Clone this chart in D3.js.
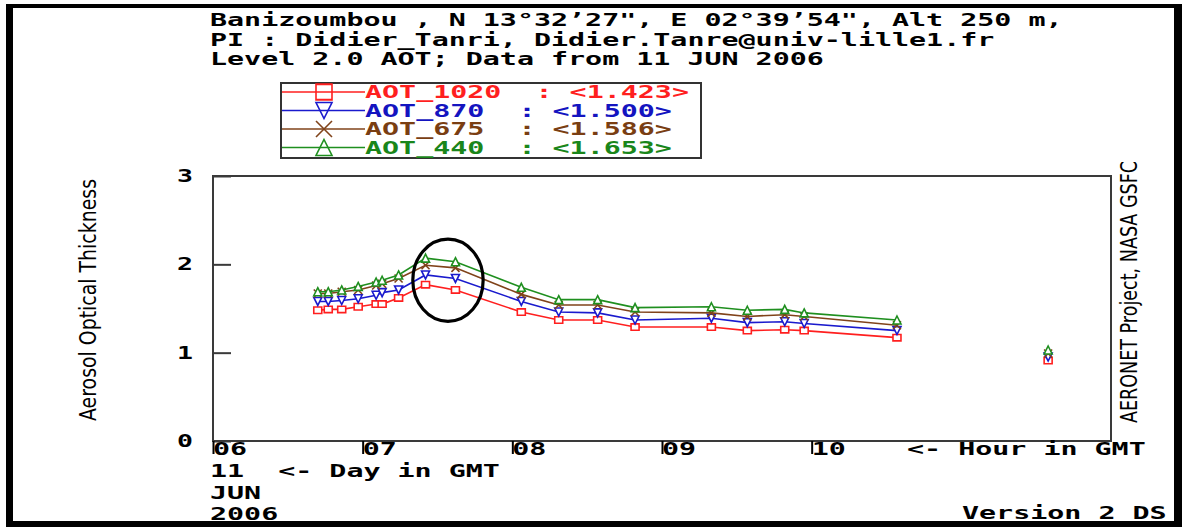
<!DOCTYPE html>
<html>
<head>
<meta charset="utf-8">
<script src="https://cdn.jsdelivr.net/npm/d3@7"></script>
<style>
  html, body { margin: 0; padding: 0; background: #fff; }
  svg { display: block; }
  text { white-space: pre; }
</style>
</head>
<body>
<svg id="chart" width="1186" height="527"></svg>
<script>
// Observation times (hour GMT, 11 JUN 2006)
const hours = [6.70, 6.77, 6.86, 6.97, 7.09, 7.13, 7.24, 7.42, 7.62, 8.06, 8.31, 8.57, 8.82, 9.33, 9.57, 9.82, 9.95, 10.57, 11.58];

// Aerosol optical thickness per wavelength
const aot1020 = [1.48, 1.49, 1.49, 1.52, 1.55, 1.55, 1.62, 1.77, 1.71, 1.46, 1.37, 1.37, 1.29, 1.29, 1.25, 1.26, 1.25, 1.17, 0.91];
const aot870  = [1.58, 1.58, 1.59, 1.61, 1.65, 1.68, 1.71, 1.88, 1.84, 1.58, 1.46, 1.45, 1.37, 1.39, 1.34, 1.35, 1.33, 1.25, 0.95];
const aot675  = [1.67, 1.67, 1.69, 1.71, 1.76, 1.78, 1.84, 1.99, 1.96, 1.66, 1.54, 1.54, 1.46, 1.45, 1.41, 1.43, 1.41, 1.31, 0.99];
const aot440  = [1.69, 1.69, 1.71, 1.75, 1.80, 1.82, 1.88, 2.07, 2.03, 1.74, 1.60, 1.60, 1.51, 1.52, 1.48, 1.49, 1.45, 1.37, 1.03];

const seriesNames = ["AOT_1020", "AOT_870", "AOT_675", "AOT_440"];
const seriesMeans = ["1.423", "1.500", "1.586", "1.653"];

const yTicks = [0, 1, 2, 3];
const xTicks = [6, 7, 8, 9, 10];
const xTickLabels = ["06", "07", "08", "09", "10"];

const titleLines = [
  "Banizoumbou , N 13\u00b032\u201927\", E 02\u00b039\u201954\", Alt 250 m,",
  "PI : Didier_Tanri, Didier.Tanre@univ-lille1.fr",
  "Level 2.0 AOT; Data from 11 JUN 2006"
];

// Highlighted interval (hour / AOT units)
const highlightCenter = [7.57, 1.82];
const highlightRadius = [0.235, 0.465];

// ---------------------------------------------------------------
const svg = d3.select("#chart");
const PITCH = 17.05;              // character advance of the wide plot font
const MONO = "'DejaVu Sans Mono', monospace";

const x = d3.scaleLinear().domain([6, 12]).range([213, 1111]);
const y = d3.scaleLinear().domain([0, 3]).range([441, 176]);

const series = [
  { name: seriesNames[0], mean: seriesMeans[0], values: aot1020, color: "#ff1f1f", text: "#ff1f1f", shape: "square" },
  { name: seriesNames[1], mean: seriesMeans[1], values: aot870,  color: "#1a1acd", text: "#1414c0", shape: "down" },
  { name: seriesNames[2], mean: seriesMeans[2], values: aot675,  color: "#80431a", text: "#7a3e12", shape: "cross" },
  { name: seriesNames[3], mean: seriesMeans[3], values: aot440,  color: "#1f8f1f", text: "#1a861a", shape: "up" }
];

// stretched monospace label
function label(g, str, px, py, opts = {}) {
  const n = opts.len != null ? opts.len : str.length * PITCH;
  return g.append("text")
    .attr("x", px).attr("y", py)
    .attr("font-family", opts.family || MONO)
    .attr("font-weight", opts.weight || "bold")
    .attr("font-size", opts.size || 17)
    .attr("fill", opts.fill || "#000")
    .attr("textLength", n)
    .attr("lengthAdjust", "spacingAndGlyphs")
    .attr("text-anchor", opts.anchor || "start")
    .attr("transform", opts.transform || null)
    .text(str);
}

// marker path generator centered at 0,0
function markerPath(shape, s) {
  const h = s / 2;
  switch (shape) {
    case "square": return `M${-h},${-h * 0.8}H${h}V${h * 0.8}H${-h}Z`;
    case "down":   return `M${-h},${-h}H${h}L0,${h}Z`;
    case "up":     return `M0,${-h}L${h},${h}H${-h}Z`;
    case "cross":  return `M${-h},${-h}L${h},${h}M${h},${-h}L${-h},${h}`;
  }
}

// ---- outer frame
const frame = svg.append("g").attr("fill", "#000");
frame.append("rect").attr("x", 6).attr("y", 4).attr("width", 7).attr("height", 523);
frame.append("rect").attr("x", 6).attr("y", 4).attr("width", 1176).attr("height", 4);
frame.append("rect").attr("x", 1174).attr("y", 4).attr("width", 8).attr("height", 523);
frame.append("rect").attr("x", 6).attr("y", 521).attr("width", 1176).attr("height", 6);

// ---- header
const head = svg.append("g");
titleLines.forEach((t, i) => label(head, t, 210, 26 + i * 19.5));

// ---- plot box
const plot = svg.append("g");
plot.append("rect")
  .attr("x", x(6)).attr("y", y(3))
  .attr("width", x(12) - x(6)).attr("height", y(0) - y(3))
  .attr("fill", "none").attr("stroke", "#3a3a3a").attr("stroke-width", 2);

// y axis: inward ticks, labels to the left
const yAxis = d3.axisLeft(y).tickValues(yTicks).tickSize(-18).tickFormat(d3.format("d"));
const yg = plot.append("g").attr("transform", `translate(${x(6)},0)`).call(yAxis);
yg.select(".domain").remove();
yg.selectAll(".tick line").attr("stroke", "#3a3a3a").attr("stroke-width", 2);
yg.selectAll(".tick text").remove();
yTicks.forEach(v => label(plot, String(v), 185, y(v) + 6, { len: 16, anchor: "middle" }));

// x axis: short downward ticks with labels starting at the tick
const xAxis = d3.axisBottom(x).tickValues(xTicks).tickSize(13).tickFormat("");
const xg = plot.append("g").attr("transform", `translate(0,${y(0)})`).call(xAxis);
xg.select(".domain").remove();
xg.selectAll(".tick line").attr("stroke", "#000").attr("stroke-width", 2);
xTicks.forEach((h, i) => label(plot, xTickLabels[i], x(h), 455));
label(plot, "<- Hour in GMT", 907, 455);

// date block under the axis
label(svg, "11  <- Day in GMT", 210, 477);
label(svg, "JUN", 210, 499);
label(svg, "2006", 210, 520);
label(svg, "Version 2 DS", 962, 519);

// axis titles
label(svg, "Aerosol Optical Thickness", 0, 0, {
  family: "'DejaVu Sans', sans-serif", weight: "normal", size: 23, len: 242,
  anchor: "middle", transform: `translate(96,300) rotate(-90)`
});
label(svg, "AERONET Project, NASA GSFC", 0, 0, {
  family: "'DejaVu Sans', sans-serif", weight: "normal", size: 23, len: 262,
  anchor: "middle", transform: `translate(1137,292) rotate(-90)`
});

// ---- data lines (broken where the sampling gap is large)
const gapLimit = 0.8;
const lineGen = d3.line().x(d => x(d[0])).y(d => y(d[1]));
series.forEach(s => {
  const pts = hours.map((h, i) => [h, s.values[i]]);
  const segments = [];
  pts.forEach((p, i) => {
    if (i === 0 || p[0] - pts[i - 1][0] > gapLimit) segments.push([]);
    segments[segments.length - 1].push(p);
  });
  const g = plot.append("g");
  segments.filter(seg => seg.length > 1).forEach(seg => {
    g.append("path").attr("d", lineGen(seg))
      .attr("fill", "none").attr("stroke", s.color).attr("stroke-width", 1.6);
  });
  g.selectAll("path.mk").data(pts).join("path").attr("class", "mk")
    .attr("transform", d => `translate(${x(d[0])},${y(d[1])})`)
    .attr("d", markerPath(s.shape, 8))
    .attr("fill", "#fff").attr("fill-opacity", s.shape === "cross" ? 0 : 1)
    .attr("stroke", s.color).attr("stroke-width", 1.6);
});

// highlighted interval
plot.append("ellipse")
  .attr("cx", x(highlightCenter[0])).attr("cy", y(highlightCenter[1]))
  .attr("rx", x(6 + highlightRadius[0]) - x(6))
  .attr("ry", y(0) - y(highlightRadius[1]))
  .attr("fill", "none").attr("stroke", "#000").attr("stroke-width", 3.2);

// ---- legend
const legend = svg.append("g");
legend.append("rect").attr("x", 281).attr("y", 83).attr("width", 420).attr("height", 75)
  .attr("fill", "#fff").attr("stroke", "#333").attr("stroke-width", 2);
const rowY = [92, 110.5, 129, 147.5];
series.forEach((s, i) => {
  const ry = rowY[i];
  legend.append("line").attr("x1", 282).attr("x2", 365).attr("y1", ry).attr("y2", ry)
    .attr("stroke", s.color).attr("stroke-width", 1.6);
  legend.append("path")
    .attr("transform", `translate(324,${ry}) scale(${s.shape === "square" ? "1,1.2" : "1"})`)
    .attr("d", markerPath(s.shape, 16))
    .attr("fill", "none").attr("stroke", s.color).attr("stroke-width", 1.6);
  label(legend, `${s.name}  : <${s.mean}>`, 365, ry + 6, { fill: s.text });
});
</script>
</body>
</html>
